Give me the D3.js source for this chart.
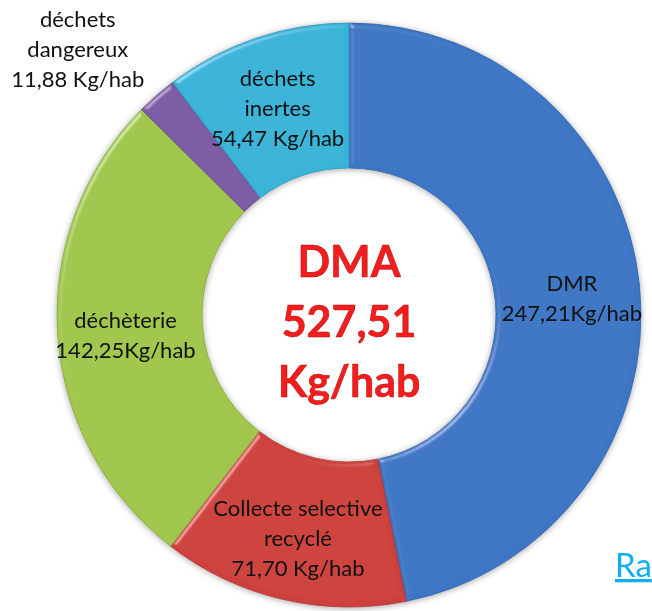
<!DOCTYPE html>
<html>
<head>
<meta charset="utf-8">
<script src="https://cdnjs.cloudflare.com/ajax/libs/d3/7.8.5/d3.min.js"></script>
<style>
  body { margin: 0; background: #fff; }
  text { font-family: Lato, "Open Sans", sans-serif; }
</style>
</head>
<body>
<svg id="chart"></svg>
<script>
// data (kg per inhabitant)
const categories = ['DMR', 'Collecte selective recyclé', 'déchèterie', 'déchets dangereux', 'déchets inertes'];
const values = [247.21, 71.70, 142.25, 11.88, 54.47];
const labelLines = [['DMR'], ['Collecte selective', 'recyclé'], ['déchèterie'], ['déchets', 'dangereux'], ['déchets', 'inertes']];
const unitLabels = ['Kg/hab', ' Kg/hab', 'Kg/hab', ' Kg/hab', ' Kg/hab'];
const colors = ['#3c76c4', '#cd403d', '#a0c64c', '#7c5ca5', '#39b4d8'];
const centerTitle = 'DMA';
const centerUnit = 'Kg/hab';
const linkText = 'Ra';

const width = 652, height = 611;
const cx = 349, cy = 315;
const outerR = 292, innerR = 147;

const data = categories.map((c, i) => ({
  name: c, value: values[i], lines: labelLines[i], unit: unitLabels[i], color: colors[i]
}));
const total = d3.sum(values);
const fmt = v => d3.format('.2f')(v).replace('.', ',');

const svg = d3.select('#chart')
  .attr('width', width)
  .attr('height', height);

// soft shadow + bevel look
const defs = svg.append('defs');
const shadow = defs.append('filter').attr('id', 'shadow')
  .attr('x', '-10%').attr('y', '-10%').attr('width', '120%').attr('height', '120%');
shadow.append('feDropShadow')
  .attr('dx', 0).attr('dy', 1).attr('stdDeviation', 3)
  .attr('flood-color', '#000').attr('flood-opacity', 0.35);

const bevel = defs.append('filter').attr('id', 'bevel');
bevel.append('feGaussianBlur').attr('in', 'SourceAlpha').attr('stdDeviation', 2.5).attr('result', 'blur');
bevel.append('feSpecularLighting')
  .attr('in', 'blur').attr('surfaceScale', 3).attr('specularConstant', 0.6)
  .attr('specularExponent', 40).attr('lighting-color', '#ffffff').attr('result', 'spec')
  .append('feDistantLight').attr('azimuth', 225).attr('elevation', 40);
bevel.append('feComposite').attr('in', 'spec').attr('in2', 'SourceAlpha')
  .attr('operator', 'in').attr('result', 'specOut');
bevel.append('feComposite').attr('in', 'SourceGraphic').attr('in2', 'specOut')
  .attr('operator', 'arithmetic').attr('k1', 0).attr('k2', 1).attr('k3', 0.5).attr('k4', 0);

const pie = d3.pie()
  .value(d => d.value)
  .sort(null);

const arc = d3.arc()
  .innerRadius(innerR)
  .outerRadius(outerR);

// labels sit mid-ring; tiny slices get pushed outside the ring
const labelArc = d3.arc().innerRadius(224).outerRadius(224);
const outsideArc = d3.arc().innerRadius(306).outerRadius(306);

const chart = svg.append('g')
  .attr('transform', `translate(${cx},${cy})`);

const ring = chart.append('g').attr('filter', 'url(#shadow)');

ring.selectAll('.slice')
  .data(pie(data))
  .join('path')
  .attr('class', 'slice')
  .attr('d', arc)
  .attr('fill', d => d.data.color)
  .attr('stroke', d => d3.color(d.data.color).darker(0.5))
  .attr('stroke-width', 0.8)
  .attr('filter', 'url(#bevel)');

// slice labels
const lineH = 30;
chart.selectAll('.label')
  .data(pie(data))
  .join('text')
  .attr('class', 'label')
  .attr('text-anchor', 'middle')
  .attr('font-size', 22)
  .attr('fill', '#111')
  .each(function (d) {
    const outside = d.value / total < 0.05;
    const lines = d.data.lines.concat([fmt(d.data.value) + d.data.unit]);
    const t = d3.select(this);
    const spans = lines.map(l => t.append('tspan').attr('dy', '0.6em').text(l));
    let [x, y] = (outside ? outsideArc : labelArc).centroid(d);
    if (outside) {
      // hang the block above-left of the anchor point
      const w = d3.max(spans, s => s.node().getComputedTextLength());
      x = x - w / 2 - 3;
      y = y - (lines.length - 1) / 2 * lineH - 11;
    }
    spans.forEach((s, i) => {
      s.attr('x', x).attr('y', y + (i - (lines.length - 1) / 2) * lineH);
    });
  });

// centre total
const centerLines = [centerTitle, fmt(total), centerUnit];
chart.append('text')
  .attr('text-anchor', 'middle')
  .attr('font-size', 43)
  .attr('font-weight', 'bold')
  .attr('fill', '#f41c1c')
  .attr('stroke', '#b01010')
  .attr('stroke-width', 0.5)
  .selectAll('tspan')
  .data(centerLines)
  .join('tspan')
  .attr('x', 0)
  .attr('y', (d, i) => (i - 1) * 60 + 7)
  .attr('dy', '0.35em')
  .text(d => d);

// cut-off hyperlink at the bottom right of the slide
svg.append('text')
  .attr('x', 615)
  .attr('y', 577)
  .attr('font-size', 33)
  .attr('fill', '#12aff0')
  .attr('text-decoration', 'underline')
  .text(linkText);
</script>
</body>
</html>
